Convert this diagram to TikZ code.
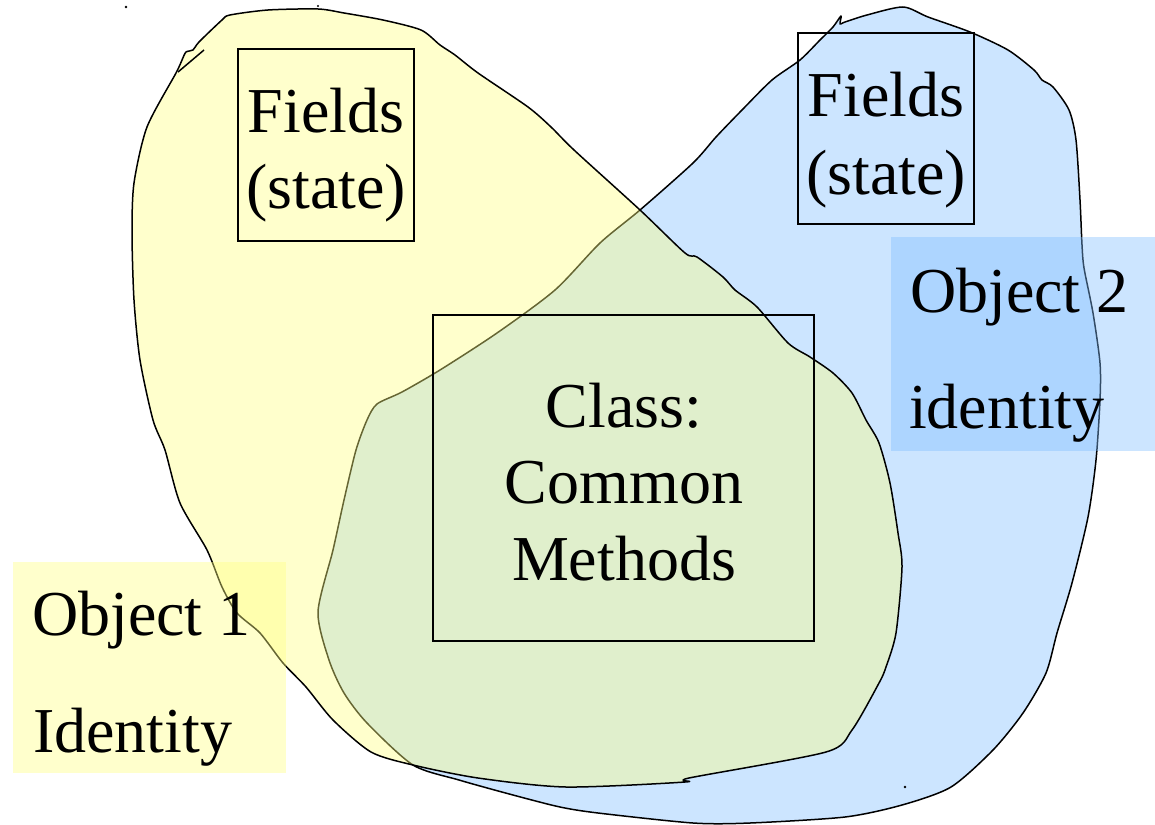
\documentclass[tikz,border=0pt]{standalone}
\usepackage{fontspec}
\setmainfont{Liberation Serif}
\begin{document}
\definecolor{bluefill}{RGB}{204,229,255}
\definecolor{blueglass}{RGB}{128,190,255}
\definecolor{yellowglass}{RGB}{255,255,128}
\begin{tikzpicture}[x=1pt,y=-1pt,
  blob/.style={draw=black,line width=1.5pt,line join=round},
  frame/.style={draw=black,line width=1.7pt,inner sep=0pt,outer sep=0pt,anchor=north west},
  glass/.style={fill=#1,fill opacity=0.4,draw=none,inner sep=0pt,outer sep=0pt,anchor=north west},
  txt/.style={font=\fontsize{64}{76}\selectfont,inner sep=0pt,outer sep=0pt,anchor=base},
  ltxt/.style={txt,anchor=base west}]
\useasboundingbox (0,0) rectangle (1155,824);

% object 2: blue blob
\draw[blob,fill=bluefill] plot[smooth cycle,tension=0.45] coordinates {
  (903,7) (928,17) (970,32) (1008,50) (1034,70) (1042,80) (1053,87) (1069,110)
  (1076,140) (1080,200) (1082,245) (1084,268) (1093,313) (1100,363) (1100,400)
  (1096,460) (1088,517) (1072,583) (1057,633) (1046,673) (1023,713) (993,750)
  (951,787) (902,805) (845,817) (750,823) (693,823) (598,813) (560,807) (513,795)
  (459,780) (413,765) (367,723) (344,693) (329,660) (318,612) (333,550) (344,500)
  (356,450) (367,420) (377,404) (402,392) (440,370) (497,333) (555,290) (600,243)
  (640,210) (693,163) (716,137) (742,110) (772,80) (800,60) (820,40) (833,27)
  (841,16) (840,24) (845,22) (867,15)};

% object 1: translucent yellow blob on top
\draw[blob,fill=yellowglass,fill opacity=0.4,draw opacity=1] plot[smooth cycle,tension=0.45] coordinates {
  (230,15) (268,10) (318,9) (344,13) (383,20) (421,30) (440,45) (455,55) (478,73)
  (528,107) (551,127) (574,150) (640,210) (685,253) (697,257) (723,277) (735,290)
  (757,307) (788,343) (810,357) (833,373) (852,393) (866,420) (879,443) (890,483)
  (898,533) (902,567) (896,633) (886,667) (879,683) (852,730) (826,752) (689,778)
  (685,782) (566,787) (478,778) (413,765) (371,752) (333,720) (306,687) (283,663)
  (260,633) (237,613) (222,587) (207,550) (180,503) (165,450) (153,420) (140,360)
  (134,300) (132,233) (134,183) (147,127) (176,73) (182,60) (186,52) (193,50) (199,42) (222,20)};
\draw[line width=1.5pt] (178,72) -- (204,50);

% stray pen dots
\fill (126,7) circle (1.3);
\fill (318,6) circle (1.1);
\fill (905,787) circle (1.3);

% fields and class boxes
\node[frame,minimum width=176,minimum height=192] (fields1) at (238,49) {};
\node[frame,minimum width=176,minimum height=191] (fields2) at (798,33) {};
\node[frame,minimum width=381,minimum height=326] (classbox) at (433,315) {};

\node[txt] (f1a) at (326,132) {Fields};
\node[txt] (f1b) at (326,208) {(state)};
\node[txt] (f2a) at (886,117) {Fields};
\node[txt] (f2b) at (886,194) {(state)};
\node[txt] (c1) at (624,427) {Class:};
\node[txt] (c2) at (624,503) {Common};
\node[txt] (c3) at (624,580) {Methods};

% identity labels on translucent patches
\node[glass=yellowglass,minimum width=273,minimum height=211] (id1box) at (13,562) {};
\node[glass=blueglass,minimum width=270,minimum height=214] (id2box) at (891,237) {};
\node[ltxt] (o1a) at (32,635) {Object 1};
\node[ltxt] (o1b) at (33,752) {Identity};
\node[ltxt] (o2a) at (910,312) {Object 2};
\node[ltxt] (o2b) at (909,428) {identity};
\end{tikzpicture}
\end{document}
